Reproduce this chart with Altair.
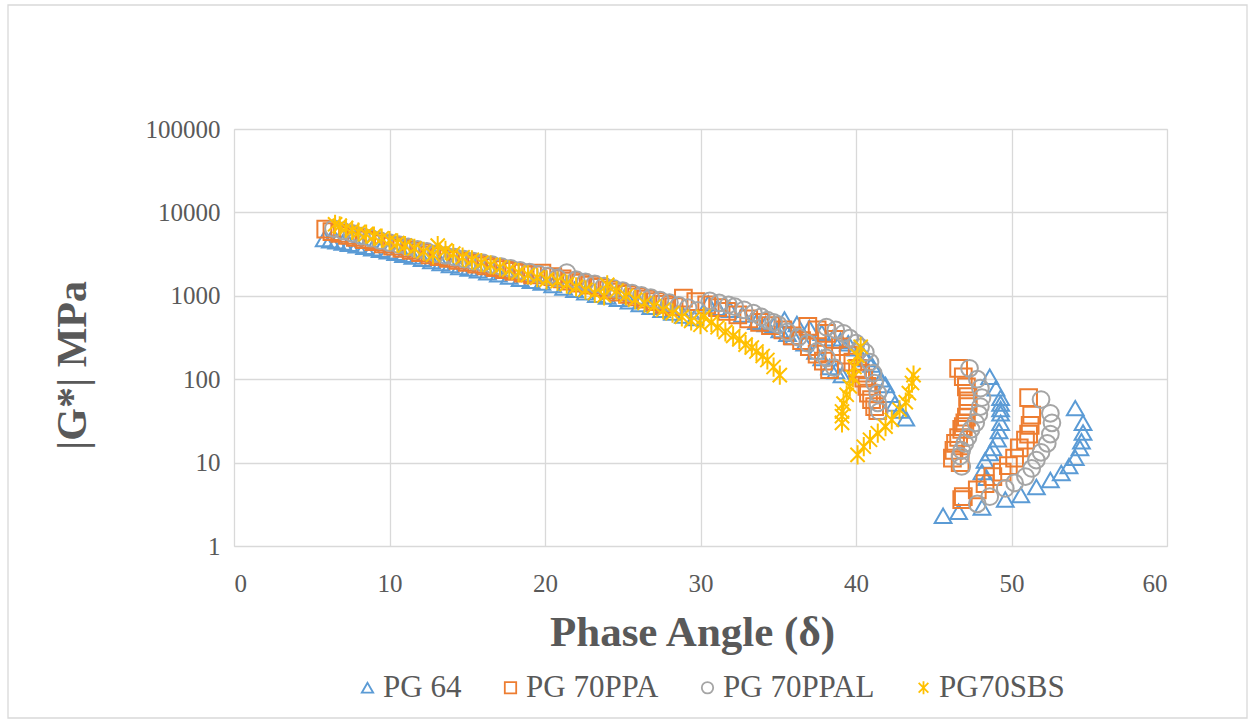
import altair as alt
import pandas as pd

# ---- data (phase angle in degrees, |G*| in MPa) ----
series_names = ["PG 64", "PG 70PPA", "PG 70PPAL", "PG70SBS"]

pg64_x = [5.8, 6.2, 6.6, 7.0, 7.4, 7.9, 8.4, 8.9, 9.4, 9.9, 10.4, 10.9, 11.5, 12.1, 12.7,
          13.3, 13.9, 14.5, 15.1, 15.7, 16.3, 17.0, 17.7, 18.4, 19.1, 19.8, 20.5, 21.2,
          21.9, 22.6, 23.3, 24.0, 24.7, 25.4, 26.1, 26.8, 27.5, 28.2, 28.9, 29.6,
          30.5, 31.1, 31.9, 32.7, 33.6, 34.2, 34.7, 35.1, 35.6, 36.0, 36.7, 37.4, 37.8, 38.3, 38.7, 39.1,
          35.4, 36.2, 37.0, 37.8, 38.5, 39.0, 39.5, 40.0, 40.4, 40.7, 41.0, 41.3, 41.6, 41.9, 42.2, 42.5, 42.8, 43.2,
          48.6, 49.0, 49.3, 49.3, 49.3, 49.3, 49.3, 49.2, 49.1, 48.8, 48.6, 48.3, 48.1, 48.4,
          45.6, 46.6, 48.1, 49.6, 50.6, 51.6, 52.5, 53.2, 53.7, 54.1, 54.4, 54.5, 54.6, 54.6, 54.1]
pg64_y = [4800, 4650, 4500, 4350, 4200, 4050, 3880, 3720, 3560, 3420, 3280, 3100, 2950, 2780, 2620,
          2480, 2340, 2220, 2130, 2020, 1920, 1810, 1700, 1600, 1510, 1440, 1350, 1260,
          1180, 1100, 1030, 980, 920, 860, 800, 740, 680, 630, 580, 540,
          815, 720, 680, 595, 490, 460, 440, 390, 350, 320, 270, 215, 180, 140, 125, 112,
          520, 460, 410, 360, 310, 290, 270, 235, 205, 175, 150, 120, 100, 85, 65, 51, 42, 34,
          107, 78, 60, 51, 44, 39, 30, 24, 19, 15, 13, 10.6, 7.7, 6.6,
          2.3, 2.57, 2.9, 3.6, 4.1, 5.1, 6.2, 7.5, 9.1, 11.4, 15, 18, 23, 30, 45]

ppa_x = [5.9, 6.3, 6.8, 7.3, 7.8, 8.4, 9.0, 9.6, 10.2, 10.8, 11.4, 12.0, 12.6, 13.2, 13.8,
         14.4, 15.0, 15.6, 16.2, 16.8, 17.4, 18.0, 18.6, 19.2, 19.8, 20.5, 21.1, 21.7, 22.3,
         22.9, 23.5, 24.1, 24.7, 25.3, 25.9, 26.5, 27.1, 27.7, 28.3,
         28.9, 29.7, 30.4, 31.1, 31.7, 32.4, 33.1, 33.8, 34.5, 35.3, 35.9, 36.5, 37.0, 37.5, 37.9, 38.3,
         36.9, 37.5, 38.1, 38.6, 39.0, 39.5, 39.8, 40.1, 40.3, 40.5, 40.7, 40.8, 41.0, 41.2, 41.4,
         46.6, 46.9, 47.1, 47.2, 47.2, 47.2, 47.1, 47.0, 46.9, 46.8, 46.6, 46.4, 46.3, 46.2, 46.7,
         46.8, 46.9, 47.8, 48.3, 48.8, 49.4, 49.8, 50.2, 50.5, 50.9, 51.1, 51.2, 51.3, 51.1]
ppa_y = [6300, 5900, 5600, 5300, 5000, 4700, 4450, 4200, 3950, 3700, 3500, 3300, 3100, 2950, 2800,
         2650, 2520, 2400, 2280, 2170, 2060, 1960, 1870, 1780, 1870, 1700, 1600, 1500, 1420,
         1340, 1260, 1180, 1110, 1040, 970, 910, 850, 790, 740,
         940, 850, 780, 720, 650, 590, 530, 480, 440, 390, 330, 290, 245, 200, 165, 130,
         430, 390, 355, 300, 245, 195, 160, 135, 118, 103, 82, 68, 57, 47, 42,
         135, 107, 81, 62, 55, 47, 35, 30, 27, 25, 20, 17, 14, 11.3, 10,
         3.6, 3.9, 4.7, 5.6, 6.8, 7.7, 9.2, 11.3, 15, 18.6, 22, 28, 37, 60]

ppal_x = [6.4, 7.0, 7.6, 8.2, 8.8, 9.4, 10.0, 10.6, 11.2, 11.8, 12.4, 13.0, 13.6, 14.2, 14.8,
          15.4, 16.0, 16.6, 17.2, 17.8, 18.4, 19.0, 19.6, 20.2, 20.8, 21.4, 22.0, 22.6, 23.2,
          23.8, 24.4, 25.0, 25.6, 26.2, 26.8, 27.4, 28.0, 28.6, 29.2, 29.8,
          30.6, 31.2, 31.8, 32.2, 32.8, 33.4, 33.9, 34.3, 34.7, 35.0, 35.6, 36.3, 36.9, 37.5, 38.1, 38.6,
          38.1, 38.7, 39.2, 39.6, 40.0, 40.3, 40.6, 40.9, 41.1, 41.2, 41.4, 41.4, 41.5,
          47.3, 47.8, 48.0, 48.1, 48.0, 47.9, 47.7, 47.4, 47.2, 47.0, 46.8, 46.7, 46.8,
          47.8, 48.6, 49.6, 50.2, 50.9, 51.3, 51.6, 51.9, 52.3, 52.5, 52.6, 52.5, 51.9]
ppal_y = [6400, 6000, 5600, 5200, 4900, 4600, 4350, 4100, 3850, 3600, 3400, 3200, 3050, 2900, 2750,
          2600, 2480, 2360, 2240, 2130, 2020, 1920, 1820, 1730, 1640, 1900, 1560, 1470, 1390,
          1310, 1230, 1150, 1080, 1010, 950, 890, 830, 770, 720, 670,
          870, 820, 780, 740, 680, 620, 560, 510, 480, 450, 370, 320, 270, 215, 180, 138,
          420, 390, 355, 310, 270, 240, 210, 160, 118, 90, 68, 52, 41,
          135, 100, 78, 60, 47, 38, 30, 25, 20, 17, 14, 12, 9,
          3.2, 3.9, 4.9, 5.7, 6.8, 8.5, 10.7, 13.3, 17, 22, 30, 39, 57]

sbs_x = [6.5, 6.8, 7.2, 7.6, 8.0, 8.5, 9.0, 9.5, 10.0, 10.5, 11.0, 11.6, 12.2, 12.8,
         13.1, 13.6, 14.1, 14.7, 15.3, 15.9, 16.5, 17.1, 17.7, 18.3, 18.9, 19.5, 20.1,
         20.8, 21.4, 22.0, 22.6, 23.2, 23.8,
         24.0, 24.6, 25.2, 25.8, 26.4, 27.0, 27.6, 28.2, 28.8, 29.4, 30.0,
         30.2, 30.7, 31.1, 31.6, 32.1, 32.5, 32.9, 33.3, 33.6, 34.0, 34.3, 34.7, 35.1,
         39.1, 39.1, 39.1, 39.2, 39.4, 39.6, 39.8, 39.9, 40.1, 40.3,
         40.1, 40.5, 40.9, 41.4, 41.9, 42.3, 42.8, 43.2, 43.4, 43.6, 43.7]
sbs_y = [7200, 6900, 6500, 6100, 5800, 5500, 5200, 4900, 4600, 4300, 4000, 3700, 3400, 3100,
         4000, 3500, 3200, 2900, 2700, 2500, 2350, 2200, 2050, 1900, 1780, 1650, 1550,
         1500, 1380, 1280, 1180, 1080, 1000,
         1350, 1150, 1000, 900, 820, 750, 680, 620, 560, 500, 450,
         560, 480, 420, 370, 330, 300, 260, 240, 215, 190, 170, 140, 112,
         30, 36, 41, 51, 65, 82, 105, 140, 190, 245,
         12.4, 15.5, 18.8, 22.5, 27, 32.5, 43, 53, 68, 90, 112]

colors = ["#5B9BD5", "#ED7D31", "#A5A5A5", "#FFC000"]
asterisk = "M-0.85,-0.85L0.85,0.85M-0.85,0.85L0.85,-0.85M0,-1.15L0,1.15"
shapes = ["triangle-up", "square", "circle", asterisk]

x_ticks = [0, 10, 20, 30, 40, 50, 60]
y_ticks = [1, 10, 100, 1000, 10000, 100000]

frames = []
for i, (name, xs, ys) in enumerate(zip(series_names,
                                       [pg64_x, ppa_x, ppal_x, sbs_x],
                                       [pg64_y, ppa_y, ppal_y, sbs_y])):
    frames.append(pd.DataFrame({"phase": xs, "gstar": ys, "series": name, "ord": i}))
df = pd.concat(frames, ignore_index=True)
df["idx"] = range(len(df))

FONT = "Liberation Serif"
TXT = "#595959"
GRID = "#D9D9D9"

points = alt.Chart(df).mark_point(filled=False, size=280, strokeWidth=2, opacity=1).encode(
    x=alt.X("phase:Q",
            scale=alt.Scale(domain=[0, 60], nice=False),
            axis=alt.Axis(values=x_ticks, title="Phase Angle (δ)", grid=True, gridColor=GRID,
                          gridWidth=1.3, domain=False, ticks=False, labelFont=FONT,
                          labelFontSize=25, labelColor=TXT, labelPadding=25,
                          titleFont=FONT, titleFontSize=43, titleFontWeight="bold",
                          titleColor=TXT, titleX=458, titleY=86, titleBaseline="middle",
                          titleAnchor="start", titleAlign="center")),
    y=alt.Y("gstar:Q",
            scale=alt.Scale(type="log", domain=[1, 100000], nice=False),
            axis=alt.Axis(values=y_ticks, format="d", title="|G*| MPa", grid=True,
                          gridColor=GRID, gridWidth=1.3, domain=False, ticks=False,
                          labelFont=FONT, labelFontSize=25, labelColor=TXT, labelPadding=14,
                          titleFont=FONT, titleFontSize=42, titleFontWeight="bold",
                          titleColor=TXT, titleX=-162, titleY=236, titleAngle=270,
                          titleBaseline="middle", titleAlign="center", titleAnchor="start")),
    color=alt.Color("series:N", scale=alt.Scale(domain=series_names, range=colors),
                    legend=alt.Legend(title=None, orient="none", direction="horizontal",
                                      legendX=118, legendY=543, labelFont=FONT,
                                      labelFontSize=31, labelColor=TXT, symbolSize=130,
                                      symbolStrokeWidth=1.8, columnPadding=33,
                                      labelOffset=0, symbolType="circle")),
    shape=alt.Shape("series:N", scale=alt.Scale(domain=series_names, range=shapes),
                    legend=None),
    order=alt.Order("idx:Q"),
)

border = alt.Chart(pd.DataFrame({"k": [0]})).mark_rect(
    fill=None, stroke=GRID, strokeWidth=1.3
).encode(x=alt.value(-226), x2=alt.value(1013), y=alt.value(-124), y2=alt.value(589))

chart = alt.layer(border, points).properties(
    width=933, height=417,
    autosize=alt.AutoSizeParams(type="none"),
    padding={"left": 234, "top": 129, "right": 86, "bottom": 178},
).configure_view(stroke=None).configure(background="white")

chart.save("out.html", embed_options={"renderer": "svg", "actions": False})
